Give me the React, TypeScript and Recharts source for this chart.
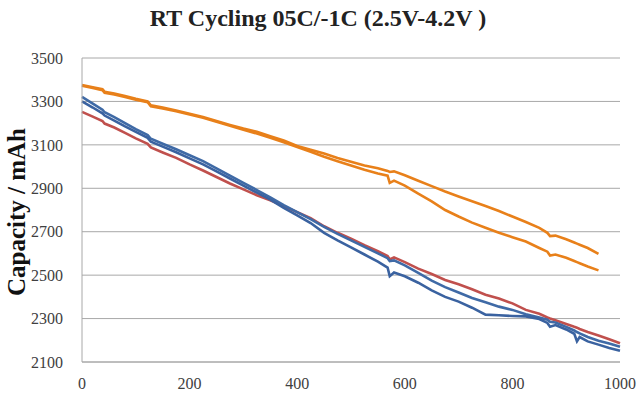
import { LineChart, Line, XAxis, YAxis, CartesianGrid } from 'recharts';

const cycles = [
  0, 20, 38, 42, 60, 80, 100, 122, 128, 150, 175, 200, 225, 250, 275, 300, 325, 350, 375, 400,
  425, 450, 475, 500, 525, 550, 568, 572, 580, 600, 625, 650, 675, 700, 725, 750, 775, 800, 825, 850,
  865, 870, 880, 900, 915, 920, 925, 940, 960, 980, 1000,
];

// orange cells (stop before 1000 cycles)
const orangeA = [
  3376, 3365, 3356, 3345, 3336, 3325, 3312, 3300, 3282, 3272, 3258, 3243, 3228, 3210, 3192, 3175, 3160, 3140, 3120, 3095,
  3078, 3060, 3040, 3022, 3005, 2992, 2980, 2975, 2978, 2960, 2935, 2910, 2885, 2862, 2840, 2818, 2795, 2770, 2745, 2718,
  2695, 2680, 2682, 2665, 2650, 2645, 2640, 2625, 2598, null, null,
];
const orangeB = [
  3372, 3362, 3352, 3340, 3332, 3320, 3308, 3296, 3278, 3268, 3255, 3240, 3225, 3206, 3188, 3170, 3152, 3133, 3112, 3090,
  3068, 3045, 3025, 3005, 2985, 2968, 2958, 2925, 2935, 2912, 2875, 2840, 2800, 2770, 2742, 2718, 2695, 2675, 2655, 2625,
  2608, 2590, 2595, 2580, 2565, 2560, 2555, 2540, 2522, null, null,
];

// blue cells
const blueA = [
  3321, 3290, 3262, 3250, 3228, 3200, 3172, 3145, 3128, 3105, 3080, 3052, 3025, 2992, 2958, 2925, 2892, 2858, 2822, 2790,
  2758, 2722, 2690, 2660, 2630, 2600, 2578, 2565, 2568, 2545, 2510, 2475, 2445, 2420, 2395, 2375, 2355, 2340, 2320, 2305,
  2295, 2285, 2282, 2262, 2245, 2238, 2232, 2215, 2198, 2185, 2170,
];
const blueB = [
  3300, 3272, 3245, 3235, 3212, 3185, 3160, 3132, 3115, 3092, 3066, 3038, 3010, 2978, 2945, 2912, 2880, 2848, 2810, 2775,
  2740, 2695, 2660, 2628, 2595, 2562, 2535, 2495, 2512, 2495, 2465, 2430, 2400, 2378, 2350, 2318, 2315, 2312, 2310, 2298,
  2280, 2262, 2270, 2250, 2230, 2195, 2215, 2195, 2180, 2165, 2152,
];

// red cell
const red = [
  3252, 3230, 3210, 3198, 3180, 3155, 3130, 3105, 3088, 3065, 3040, 3010, 2982, 2952, 2922, 2895, 2868, 2845, 2818, 2790,
  2762, 2725, 2695, 2668, 2638, 2610, 2588, 2572, 2582, 2560, 2530, 2505, 2478, 2458, 2435, 2410, 2392, 2370, 2340, 2322,
  2305, 2300, 2292, 2275, 2262, 2258, 2252, 2238, 2222, 2205, 2186,
];

const xTicks = [0, 200, 400, 600, 800, 1000];
const yTicks = [2100, 2300, 2500, 2700, 2900, 3100, 3300, 3500];

const data = cycles.map((c, i) => ({
  cycle: c,
  orangeA: orangeA[i],
  orangeB: orangeB[i],
  blueA: blueA[i],
  blueB: blueB[i],
  red: red[i],
}));

const serif = '"Liberation Serif", "Times New Roman", serif';
const tickStyle = { fontFamily: serif, fontSize: 16, fill: '#404040' };

export default function App() {
  return (
    <div style={{ position: 'absolute', left: 0, top: 0, width: 640, height: 399, background: '#fff' }}>
      <div
        style={{
          position: 'absolute', top: 5, left: 0, width: 636, textAlign: 'center',
          fontFamily: serif, fontWeight: 'bold', fontSize: 24, color: '#222',
        }}
      >
        RT Cycling 05C/-1C (2.5V-4.2V )
      </div>
      <div
        style={{
          position: 'absolute', left: 17, top: 212, transform: 'translate(-50%, -50%) rotate(-90deg)',
          whiteSpace: 'nowrap', fontFamily: serif, fontWeight: 'bold', fontSize: 25, color: '#111',
        }}
      >
        Capacity / mAh
      </div>
      <LineChart width={640} height={399} data={data} margin={{ top: 58, right: 20, bottom: 0, left: 0 }}>
        <CartesianGrid vertical={false} stroke="#a8a8a8" />
        <XAxis
          dataKey="cycle"
          type="number"
          domain={[0, 1000]}
          ticks={xTicks}
          tickLine={false}
          axisLine={{ stroke: '#a8a8a8' }}
          tick={tickStyle}
          tickMargin={10}
          height={37}
        />
        <YAxis
          type="number"
          domain={[2100, 3500]}
          ticks={yTicks}
          tickLine={false}
          axisLine={{ stroke: '#a8a8a8' }}
          tick={tickStyle}
          tickMargin={13}
          width={82}
        />
        <Line dataKey="orangeA" stroke="#e8801a" strokeWidth={2.6} dot={false} isAnimationActive={false} />
        <Line dataKey="orangeB" stroke="#e8801a" strokeWidth={2.6} dot={false} isAnimationActive={false} />
        <Line dataKey="red" stroke="#c0504d" strokeWidth={2.6} dot={false} isAnimationActive={false} />
        <Line dataKey="blueA" stroke="#3f6aa6" strokeWidth={2.6} dot={false} isAnimationActive={false} />
        <Line dataKey="blueB" stroke="#3a62a0" strokeWidth={2.6} dot={false} isAnimationActive={false} />
      </LineChart>
    </div>
  );
}
